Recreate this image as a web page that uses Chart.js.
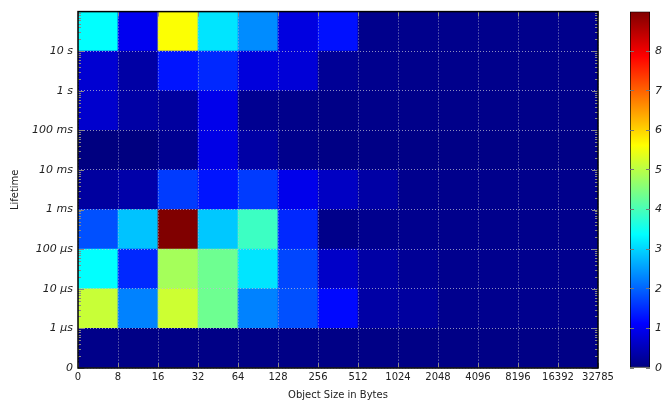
<!DOCTYPE html>
<html lang="en">
<head>
    <meta charset="UTF-8">
    <title>Object lifetime vs size</title>
    <script src="https://cdn.jsdelivr.net/npm/chart.js"></script>
    <style>
        body { margin: 0; background: #fff; }
        #wrap { position: relative; width: 663px; height: 402px; }
        #heat { position: absolute; left: 0; top: 0; }
        #cbar { position: absolute; left: 620px; top: 0; }
    </style>
</head>
<body>
<div id="wrap">
    <canvas id="heat" width="663" height="402"></canvas>
    <canvas id="cbar" width="43" height="402"></canvas>
</div>
<script>
    // bucket edges on the axes
    const xLabels = ['0', '8', '16', '32', '64', '128', '256', '512', '1024', '2048', '4096', '8196', '16392', '32785'];
    const yLabels = ['0', '1 µs', '10 µs', '100 µs', '1 ms', '10 ms', '100 ms', '1 s', '10 s', ''];
    const cbarTicks = [0, 1, 2, 3, 4, 5, 6, 7, 8];
    const vMax = 9;

    // one array per lifetime bucket, one value per size bucket
    const under1us   = [0.08, 0.06, 0.06, 0.06, 0.06, 0.06, 0.06, 0.06, 0.06, 0.06, 0.06, 0.06, 0.06];
    const us1to10    = [5.14, 2.27, 5.18, 4.35, 2.27, 1.83, 1.2, 0.33, 0.28, 0.13, 0.13, 0.13, 0.13];
    const us10to100  = [3.38, 1.48, 4.83, 4.35, 3.15, 1.74, 0.64, 0.33, 0.2, 0.13, 0.13, 0.13, 0.13];
    const us100to1ms = [1.83, 2.85, 9.0, 2.89, 3.9, 1.48, 0.09, 0.13, 0.13, 0.11, 0.11, 0.11, 0.11];
    const ms1to10    = [0.28, 0.37, 1.65, 1.3, 1.65, 0.95, 0.6, 0.33, 0.13, 0.11, 0.11, 0.11, 0.11];
    const ms10to100  = [0.0, 0.0, 0.15, 0.9, 0.33, 0.11, 0.05, 0.06, 0.06, 0.06, 0.06, 0.06, 0.06];
    const ms100to1s  = [0.68, 0.33, 0.28, 0.95, 0.15, 0.11, 0.07, 0.09, 0.09, 0.09, 0.09, 0.09, 0.09];
    const s1to10     = [0.73, 0.33, 1.3, 1.48, 0.82, 0.77, 0.2, 0.13, 0.11, 0.11, 0.11, 0.11, 0.11];
    const over10s    = [3.38, 0.99, 5.6, 3.15, 2.36, 0.85, 1.27, 0.11, 0.11, 0.11, 0.11, 0.11, 0.11];

    const rows = [under1us, us1to10, us10to100, us100to1ms, ms1to10, ms10to100, ms100to1s, s1to10, over10s];

    // pgfplots style jet: navy, blue, cyan, yellow, red, dark red
    const jetStops = [
        [0, [0, 0, 0.5]], [0.125, [0, 0, 1]], [0.375, [0, 1, 1]],
        [0.625, [1, 1, 0]], [0.875, [1, 0, 0]], [1, [0.5, 0, 0]]
    ];
    function jet(t) {
        t = Math.max(0, Math.min(1, t));
        let i = 1;
        while (i < jetStops.length - 1 && t > jetStops[i][0]) i++;
        const [t0, c0] = jetStops[i - 1], [t1, c1] = jetStops[i];
        const f = (t - t0) / (t1 - t0);
        const c = c0.map((v, k) => Math.round(255 * (v + (c1[k] - v) * f)));
        return `rgb(${c[0]},${c[1]},${c[2]})`;
    }

    const font = { family: 'DejaVu Sans', size: 10 };
    const italic = { family: 'DejaVu Sans', size: 11, style: 'italic' };

    // frame + inward tick marks like the original plot
    const frame = {
        id: 'frame',
        afterDraw(chart) {
            const { ctx, chartArea: a, scales: { x, y } } = chart;
            ctx.save();
            ctx.strokeStyle = '#888';
            ctx.lineWidth = 1;
            ctx.beginPath();
            for (let d = 0; d < rows.length; d++) {
                for (let k = 1; k < 10; k++) {
                    const py = Math.round(y.getPixelForValue(d + Math.log10(k))) + 0.5;
                    const len = k === 1 ? 6 : 3;
                    ctx.moveTo(a.left, py); ctx.lineTo(a.left + len, py);
                    ctx.moveTo(a.right, py); ctx.lineTo(a.right - len, py);
                }
            }
            for (let i = 0; i < xLabels.length; i++) {
                const px = Math.round(x.getPixelForValue(i)) + 0.5;
                ctx.moveTo(px, a.bottom); ctx.lineTo(px, a.bottom - 5);
                ctx.moveTo(px, a.top); ctx.lineTo(px, a.top + 5);
            }
            ctx.stroke();
            ctx.strokeStyle = '#000';
            ctx.lineWidth = 1.5;
            ctx.strokeRect(a.left, a.top, a.right - a.left, a.bottom - a.top);
            ctx.restore();
        }
    };

    const datasets = rows.map((vals, r) => ({
        data: vals.map((v, c) => ({ x: c + 0.5, y: [r, r + 1] })),
        backgroundColor: vals.map(v => jet(v / vMax)),
        borderWidth: 0,
        grouped: false,
        barPercentage: 1,
        categoryPercentage: 1
    }));

    new Chart(document.getElementById('heat'), {
        type: 'bar',
        data: { datasets },
        options: {
            responsive: false,
            animation: false,
            layout: { padding: { top: 8, right: 65, left: 0, bottom: 0 } },
            plugins: { legend: { display: false }, tooltip: { enabled: false } },
            scales: {
                x: {
                    type: 'linear',
                    offset: false,
                    min: 0, max: xLabels.length - 1,
                    afterFit: s => { s.height = 34; },
                    ticks: { stepSize: 1, autoSkip: false, maxRotation: 0, padding: 3, color: '#222', font,
                        callback: v => xLabels[v] },
                    grid: { z: 1, offset: false, color: 'rgba(190,190,210,0.75)', drawTicks: false },
                    border: { display: false, dash: [1, 2] },
                    title: { display: true, text: 'Object Size in Bytes', color: '#222', font, padding: { top: 0, bottom: 1 } }
                },
                y: {
                    type: 'linear',
                    min: 0, max: rows.length,
                    afterFit: s => { s.width = 78; },
                    ticks: { stepSize: 1, autoSkip: false, padding: 5, color: '#222', font: italic,
                        callback: v => yLabels[v] },
                    grid: { z: 1, color: 'rgba(190,190,210,0.75)', drawTicks: false },
                    border: { display: false, dash: [1, 2] },
                    title: { display: true, text: 'Lifetime', color: '#222', font, padding: { top: 9, bottom: 0 } }
                }
            }
        },
        plugins: [frame]
    });

    // colour bar
    new Chart(document.getElementById('cbar'), {
        type: 'bar',
        data: {
            labels: [''],
            datasets: [{
                data: [[0, vMax]],
                backgroundColor: ctx => {
                    const a = ctx.chart.chartArea;
                    if (!a) return jet(0);
                    const g = ctx.chart.ctx.createLinearGradient(0, a.bottom, 0, a.top);
                    jetStops.forEach(([t]) => g.addColorStop(t, jet(t)));
                    return g;
                },
                borderColor: '#000',
                borderWidth: 1,
                borderSkipped: false,
                barPercentage: 1,
                categoryPercentage: 1
            }]
        },
        options: {
            responsive: false,
            animation: false,
            layout: { padding: { top: 8, bottom: 34, left: 10, right: 0 } },
            plugins: { legend: { display: false }, tooltip: { enabled: false } },
            scales: {
                x: { display: false },
                y: {
                    position: 'right',
                    min: 0, max: vMax,
                    afterFit: s => { s.width = 13; },
                    afterBuildTicks: s => { s.ticks = cbarTicks.map(v => ({ value: v })); },
                    ticks: { padding: 5, color: '#222', font: italic },
                    grid: { z: 1, color: '#777', drawTicks: false, lineWidth: 1 },
                    border: { display: false, dash: [4, 12] }
                }
            }
        }
    });
</script>
</body>
</html>
